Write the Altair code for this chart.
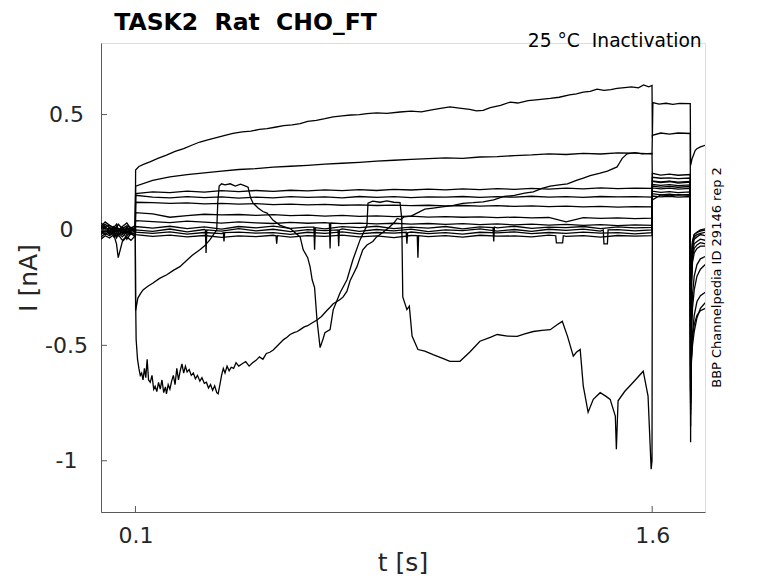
import altair as alt
import pandas as pd

# ---------------- text ----------------
chart_title = "TASK2\u00a0 Rat\u00a0 CHO_FT"
info_text = "25 °C\u00a0 Inactivation"
side_text = "BBP Channelpedia ID 29146 rep 2"
x_title = "t [s]"
y_title = "I [nA]"
x_ticks = [0.1, 1.6]
y_ticks = [-1, -0.5, 0, 0.5]
x_domain = [0.0, 1.7533]
y_domain = [-1.222, 0.81]

# ---------------- sample times per protocol phase ----------------
pre_t = [0.0, 0.012, 0.025, 0.037, 0.045, 0.05, 0.062, 0.075, 0.087, 0.0995]
step_t = [0.1005, 0.15, 0.2, 0.25, 0.3, 0.35, 0.4, 0.45, 0.5, 0.55, 0.6, 0.65, 0.7, 0.75,
          0.8, 0.85, 0.9, 0.95, 1.0, 1.05, 1.1, 1.15, 1.2, 1.25, 1.3, 1.35, 1.4, 1.45, 1.5,
          1.55, 1.5995]
test_t = [1.6005, 1.625, 1.65, 1.675, 1.7105]
post_t = [1.7115, 1.7125, 1.714, 1.717, 1.722, 1.73, 1.74, 1.754]

# ---------------- sweep: top ----------------
top_pre = [0.01, -0.005, 0.012, -0.01, 0.0, 0.005, -0.015, 0.008, -0.004, 0.002]
top_step = [(0.1005, 0.26), (0.11, 0.275), (0.125, 0.285), (0.142, 0.295), (0.165, 0.31),
            (0.19, 0.324), (0.215, 0.34), (0.24, 0.352), (0.265, 0.368), (0.287, 0.381),
            (0.31, 0.39), (0.335, 0.40), (0.36, 0.41), (0.383, 0.418), (0.41, 0.425),
            (0.435, 0.428), (0.46, 0.436), (0.482, 0.439), (0.505, 0.445), (0.53, 0.452),
            (0.555, 0.455), (0.578, 0.461), (0.6, 0.47), (0.625, 0.475), (0.65, 0.482),
            (0.674, 0.49), (0.7, 0.494), (0.725, 0.498), (0.75, 0.5), (0.772, 0.504),
            (0.8, 0.507), (0.83, 0.505), (0.868, 0.511), (0.9, 0.515), (0.93, 0.512),
            (0.96, 0.52), (0.99, 0.528), (1.013, 0.533), (1.04, 0.528), (1.07, 0.522),
            (1.09, 0.516), (1.109, 0.518), (1.13, 0.53), (1.16, 0.54), (1.188, 0.554),
            (1.21, 0.55), (1.24, 0.56), (1.27, 0.565), (1.304, 0.57), (1.33, 0.575),
            (1.36, 0.585), (1.38, 0.59), (1.4, 0.597), (1.42, 0.6), (1.44, 0.61),
            (1.46, 0.605), (1.48, 0.608), (1.498, 0.613), (1.52, 0.617), (1.54, 0.62),
            (1.56, 0.616), (1.575, 0.628), (1.59, 0.62), (1.5995, 0.626)]
top_test = [(1.6005, 0.40), (1.602, 0.552), (1.62, 0.545), (1.64, 0.549), (1.66, 0.544),
            (1.68, 0.548), (1.7105, 0.547)]
top_post = [(1.7115, 0.28), (1.713, 0.29), (1.716, 0.31), (1.72, 0.325), (1.725, 0.345),
            (1.73, 0.352), (1.74, 0.36), (1.754, 0.367)]

# ---------------- sweep: second ----------------
s2_pre = [-0.01, 0.015, -0.004, 0.006, -0.012, 0.0, 0.01, -0.008, 0.004, -0.006]
s2_step = [0.19, 0.215, 0.23, 0.24, 0.247, 0.255, 0.262, 0.266, 0.272, 0.276,
           0.28, 0.285, 0.289, 0.293, 0.298, 0.302, 0.306, 0.309, 0.312, 0.31,
           0.316, 0.318, 0.322, 0.325, 0.33, 0.327, 0.332, 0.329, 0.334, 0.333, 0.33]
s2_test = [0.41, 0.42, 0.415, 0.42, 0.418]
s2_post = [-0.92, -0.5, -0.2, -0.08, -0.04, -0.03, -0.02, -0.025]

# ---------------- flat sweeps ----------------
c_pre = [0.02, 0.005, -0.01, 0.012, 0.003, -0.006, 0.008, -0.012, 0.006, 0.0]
c_step = [0.158, 0.165, 0.162, 0.168, 0.164, 0.17, 0.166, 0.171, 0.167, 0.172,
          0.169, 0.174, 0.17, 0.175, 0.171, 0.176, 0.173, 0.177, 0.174, 0.178,
          0.175, 0.179, 0.176, 0.18, 0.177, 0.181, 0.178, 0.182, 0.179, 0.181, 0.18]
c_test = [0.245, 0.238, 0.242, 0.237, 0.24]
c_post = [-0.85, -0.4, -0.15, -0.06, -0.03, -0.02, -0.015, -0.01]

d_pre = [-0.02, -0.006, 0.008, -0.015, 0.004, -0.01, -0.02, 0.002, -0.012, -0.004]
d_step = [0.15, 0.142, 0.139, 0.144, 0.14, 0.143, 0.138, 0.142, 0.139, 0.144,
          0.141, 0.143, 0.139, 0.145, 0.141, 0.144, 0.14, 0.143, 0.142, 0.145,
          0.141, 0.144, 0.142, 0.146, 0.142, 0.144, 0.141, 0.145, 0.143, 0.144, 0.142]
d_test = [0.228, 0.224, 0.226, 0.222, 0.225]
d_post = [-0.8, -0.35, -0.12, -0.05, -0.02, -0.01, -0.005, 0.0]

e_pre = [0.005, 0.025, 0.01, -0.005, 0.015, 0.006, -0.004, 0.012, 0.0, 0.008]
e_step = [0.12, 0.118, 0.115, 0.117, 0.113, 0.115, 0.112, 0.114, 0.11, 0.112,
          0.109, 0.111, 0.107, 0.109, 0.106, 0.108, 0.105, 0.107, 0.104, 0.106,
          0.103, 0.105, 0.102, 0.104, 0.101, 0.103, 0.1, 0.102, 0.099, 0.101, 0.1]
e_test = [0.212, 0.208, 0.211, 0.207, 0.21]
e_post = [-0.75, -0.45, -0.2, -0.1, -0.06, -0.05, -0.04, -0.045]

f_pre = [-0.03, -0.015, -0.025, -0.01, -0.035, -0.02, -0.045, -0.025, -0.015, -0.03]
f_step = [0.075, 0.07, 0.055, 0.062, 0.068, 0.065, 0.067, 0.063, 0.066, 0.062,
          0.064, 0.06, 0.063, 0.059, 0.061, 0.058, 0.06, 0.056, 0.058, 0.055,
          0.057, 0.053, 0.056, 0.052, 0.054, 0.035, 0.053, 0.05, 0.052, 0.049, 0.051]
f_test = [0.197, 0.193, 0.196, 0.192, 0.195]
f_post = [-0.7, -0.45, -0.22, -0.12, -0.08, -0.065, -0.055, -0.06]

g_pre = [0.03, 0.015, 0.02, 0.005, 0.012, 0.025, 0.006, 0.018, 0.01, 0.015]
g_step = [0.04, 0.036, 0.032, 0.038, 0.034, 0.03, 0.035, 0.031, 0.028, 0.033,
          0.029, 0.032, 0.027, 0.03, 0.026, 0.029, 0.025, 0.028, 0.024, 0.027,
          0.023, 0.026, 0.022, 0.025, 0.021, 0.024, 0.02, 0.023, 0.019, 0.022, 0.02]
g_test = [0.182, 0.178, 0.181, 0.177, 0.18]
g_post = [-0.65, -0.45, -0.25, -0.14, -0.1, -0.08, -0.07, -0.07]
g_spikes = [(0.663, 0.03), (0.665, -0.08), (0.667, 0.03)]

k1_pre = [0.0, -0.02, -0.005, -0.03, -0.01, -0.025, 0.0, -0.04, -0.015, -0.02]
k1_step = [0.015, 0.008, 0.016, 0.006, 0.013, 0.004, 0.015, 0.009, 0.017, 0.007,
           0.012, 0.005, 0.014, 0.01, 0.016, 0.006, 0.012, 0.008, 0.015, 0.005,
           0.013, 0.009, 0.016, 0.007, 0.012, 0.01, 0.015, 0.006, 0.013, 0.009, 0.011]
k1_test = [0.168, 0.163, 0.166, 0.162, 0.165]
k1_post = [-0.7, -0.55, -0.4, -0.28, -0.2, -0.15, -0.125, -0.115]
k1_spikes = [(0.618, 0.012), (0.62, -0.086), (0.622, 0.01),
             (1.138, 0.01), (1.14, -0.05), (1.142, 0.012)]

k2_pre = [-0.04, -0.025, -0.035, -0.02, -0.06, -0.12, -0.05, -0.03, -0.045, -0.025]
k2_step = [0.0, -0.006, 0.004, -0.008, 0.002, -0.005, 0.006, -0.004, 0.003, -0.007,
           0.001, -0.003, 0.005, -0.006, 0.002, -0.004, 0.004, -0.007, 0.0, -0.003,
           0.005, -0.005, 0.002, -0.006, 0.003, -0.002, 0.004, -0.005, 0.001, -0.004, 0.0]
k2_test = [0.157, 0.152, 0.155, 0.151, 0.154]
k2_post = [-0.72, -0.6, -0.46, -0.34, -0.26, -0.2, -0.17, -0.15]
k2_spikes = [(0.303, 0.0), (0.305, -0.1), (0.307, 0.0),
             (0.688, 0.0), (0.69, -0.07), (0.692, 0.0),
             (1.458, 0.0), (1.46, -0.06), (1.47, -0.06), (1.472, 0.0)]

k3_pre = [0.015, 0.035, 0.02, 0.01, 0.025, 0.0, 0.015, 0.03, 0.005, 0.02]
k3_step = [-0.01, -0.015, -0.008, -0.018, -0.011, -0.016, -0.009, -0.014, -0.012, -0.019,
           -0.01, -0.015, -0.008, -0.017, -0.011, -0.014, -0.009, -0.016, -0.012, -0.018,
           -0.01, -0.013, -0.008, -0.016, -0.011, -0.015, -0.009, -0.014, -0.012, -0.017, -0.012]
k3_test = [0.147, 0.143, 0.146, 0.142, 0.145]
k3_post = [-0.78, -0.68, -0.56, -0.45, -0.37, -0.31, -0.285, -0.27]
k3_spikes = [(0.355, -0.012), (0.357, -0.05), (0.359, -0.012),
             (0.886, -0.01), (0.888, -0.06), (0.89, -0.012)]

k4_pre = [-0.015, 0.0, -0.02, -0.005, -0.025, -0.012, -0.03, -0.008, -0.02, -0.01]
k4_step = [-0.02, -0.028, -0.022, -0.03, -0.024, -0.032, -0.026, -0.029, -0.023, -0.031,
           -0.025, -0.028, -0.022, -0.03, -0.026, -0.033, -0.024, -0.029, -0.025, -0.031,
           -0.023, -0.027, -0.026, -0.03, -0.022, -0.028, -0.025, -0.031, -0.024, -0.027, -0.025]
k4_test = [0.19, 0.186, 0.189, 0.185, 0.188]
k4_post = [-0.6, -0.3, -0.12, -0.05, -0.02, -0.01, 0.0, 0.005]
k4_spikes = [(0.508, -0.025), (0.51, -0.06), (0.512, -0.025),
             (0.918, -0.025), (0.92, -0.12), (0.922, -0.025),
             (1.32, -0.025), (1.322, -0.056), (1.34, -0.056), (1.342, -0.025)]

# ---------------- sweep: lowest at start, slowly rising ----------------
low_pre = [0.005, -0.01, 0.0, 0.015, -0.008, 0.004, -0.012, 0.002, 0.01, -0.005]
low_step = [(0.1005, -0.3), (0.102, -0.475), (0.106, -0.56), (0.11, -0.6), (0.114, -0.63),
            (0.118, -0.62), (0.122, -0.65), (0.126, -0.6), (0.13, -0.64), (0.134, -0.56),
            (0.138, -0.65), (0.143, -0.66), (0.148, -0.63), (0.153, -0.69), (0.157, -0.677),
            (0.162, -0.7), (0.167, -0.66), (0.172, -0.69), (0.177, -0.65), (0.182, -0.705),
            (0.187, -0.68), (0.19, -0.71), (0.195, -0.67), (0.2, -0.69), (0.205, -0.655),
            (0.21, -0.63), (0.215, -0.67), (0.22, -0.6), (0.225, -0.65), (0.23, -0.61),
            (0.235, -0.58), (0.24, -0.62), (0.245, -0.59), (0.25, -0.615), (0.256, -0.605),
            (0.262, -0.63), (0.268, -0.62), (0.274, -0.645), (0.28, -0.63), (0.287, -0.655),
            (0.293, -0.64), (0.3, -0.665), (0.306, -0.66), (0.312, -0.685), (0.318, -0.67),
            (0.324, -0.695), (0.33, -0.675), (0.336, -0.705), (0.34, -0.71), (0.344, -0.68),
            (0.35, -0.63), (0.355, -0.6), (0.36, -0.62), (0.366, -0.59), (0.372, -0.61),
            (0.378, -0.595), (0.385, -0.6), (0.392, -0.575), (0.4, -0.59), (0.41, -0.58),
            (0.42, -0.57), (0.43, -0.59), (0.44, -0.575), (0.45, -0.565), (0.46, -0.55),
            (0.47, -0.56), (0.48, -0.535), (0.49, -0.53), (0.5, -0.52), (0.51, -0.505),
            (0.52, -0.49), (0.53, -0.475), (0.54, -0.465), (0.549, -0.453), (0.56, -0.445),
            (0.57, -0.44), (0.578, -0.432), (0.59, -0.42), (0.6, -0.415), (0.61, -0.405),
            (0.627, -0.39), (0.64, -0.375), (0.655, -0.35), (0.665, -0.335), (0.674, -0.32),
            (0.685, -0.31), (0.695, -0.3), (0.703, -0.29), (0.714, -0.265), (0.723, -0.22),
            (0.733, -0.19), (0.743, -0.159), (0.752, -0.12), (0.76, -0.086), (0.772, -0.065),
            (0.789, -0.05), (0.8, -0.03), (0.816, -0.013), (0.835, 0.01), (0.85, 0.03),
            (0.86, 0.05), (0.87, 0.045), (0.88, 0.057), (0.9, 0.06), (0.92, 0.075),
            (0.94, 0.09), (0.964, 0.095), (0.99, 0.1), (1.02, 0.105), (1.05, 0.115),
            (1.08, 0.118), (1.109, 0.122), (1.14, 0.13), (1.17, 0.145), (1.2, 0.15),
            (1.23, 0.16), (1.255, 0.165), (1.28, 0.18), (1.304, 0.19), (1.33, 0.195),
            (1.354, 0.2), (1.38, 0.215), (1.4, 0.225), (1.42, 0.235), (1.449, 0.246),
            (1.47, 0.255), (1.498, 0.273), (1.505, 0.29), (1.513, 0.31), (1.52, 0.32),
            (1.527, 0.33), (1.55, 0.335), (1.57, 0.33), (1.5995, 0.332)]
low_test = [0.21, 0.205, 0.21, 0.203, 0.207]
low_post = [-0.7, -0.62, -0.56, -0.5, -0.44, -0.38, -0.34, -0.315]

# ---------------- sweep: jumping / falling ----------------
jump_pre = [-0.005, 0.01, -0.015, 0.0, 0.008, -0.01, 0.005, -0.02, -0.006, 0.004]
jump_step = [(0.1005, -0.35), (0.104, -0.32), (0.107, -0.295), (0.115, -0.275), (0.122, -0.26),
             (0.135, -0.245), (0.151, -0.23), (0.17, -0.21), (0.191, -0.194), (0.21, -0.175),
             (0.229, -0.159), (0.25, -0.13), (0.265, -0.11), (0.287, -0.086), (0.3, -0.07),
             (0.316, -0.043), (0.331, -0.01), (0.336, 0.0), (0.339, 0.12), (0.343, 0.19),
             (0.35, 0.2), (0.36, 0.195), (0.375, 0.2), (0.39, 0.19), (0.405, 0.198),
             (0.42, 0.19), (0.427, 0.185), (0.434, 0.14), (0.441, 0.117), (0.456, 0.095),
             (0.47, 0.08), (0.482, 0.073), (0.49, 0.06), (0.499, 0.043), (0.52, 0.02),
             (0.55, 0.005), (0.578, -0.03), (0.587, -0.086), (0.6, -0.12), (0.607, -0.16),
             (0.613, -0.216), (0.62, -0.25), (0.627, -0.39), (0.636, -0.51), (0.645, -0.47),
             (0.65, -0.445), (0.665, -0.432), (0.674, -0.346), (0.694, -0.272), (0.714, -0.216),
             (0.731, -0.13), (0.752, -0.043), (0.772, 0.02), (0.775, 0.116), (0.789, 0.125),
             (0.81, 0.12), (0.83, 0.126), (0.85, 0.12), (0.868, 0.118), (0.873, 0.05),
             (0.876, -0.29), (0.888, -0.345), (0.895, -0.33), (0.903, -0.46), (0.92, -0.518),
             (0.94, -0.525), (0.964, -0.54), (0.99, -0.555), (1.013, -0.569), (1.042, -0.569),
             (1.07, -0.53), (1.1, -0.482), (1.13, -0.465), (1.15, -0.453), (1.18, -0.46),
             (1.208, -0.461), (1.23, -0.45), (1.255, -0.44), (1.28, -0.435), (1.304, -0.432),
             (1.325, -0.41), (1.339, -0.396), (1.354, -0.46), (1.371, -0.547), (1.38, -0.53),
             (1.391, -0.518), (1.4, -0.677), (1.414, -0.79), (1.429, -0.734), (1.449, -0.705),
             (1.465, -0.72), (1.478, -0.734), (1.493, -0.806), (1.496, -0.95), (1.501, -0.74),
             (1.52, -0.7), (1.545, -0.66), (1.574, -0.612), (1.588, -0.72), (1.597, -1.037),
             (1.5995, -1.0)]
jump_test = [0.13, 0.152, 0.148, 0.153, 0.15]
jump_post = [-0.75, -0.64, -0.55, -0.47, -0.41, -0.37, -0.35, -0.34]


def pairs(ts, vs):
    if len(ts) != len(vs):
        raise ValueError("length mismatch %d vs %d" % (len(ts), len(vs)))
    return list(zip(ts, vs))


sweeps = {
    "top": pairs(pre_t, top_pre) + top_step + top_test + top_post,
    "s2": pairs(pre_t, s2_pre) + pairs(step_t, s2_step) + pairs(test_t, s2_test) + pairs(post_t, s2_post),
    "c": pairs(pre_t, c_pre) + pairs(step_t, c_step) + pairs(test_t, c_test) + pairs(post_t, c_post),
    "d": pairs(pre_t, d_pre) + pairs(step_t, d_step) + pairs(test_t, d_test) + pairs(post_t, d_post),
    "e": pairs(pre_t, e_pre) + pairs(step_t, e_step) + pairs(test_t, e_test) + pairs(post_t, e_post),
    "f": pairs(pre_t, f_pre) + pairs(step_t, f_step) + pairs(test_t, f_test) + pairs(post_t, f_post),
    "g": pairs(pre_t, g_pre) + pairs(step_t, g_step) + pairs(test_t, g_test) + pairs(post_t, g_post) + g_spikes,
    "k1": pairs(pre_t, k1_pre) + pairs(step_t, k1_step) + pairs(test_t, k1_test) + pairs(post_t, k1_post) + k1_spikes,
    "k2": pairs(pre_t, k2_pre) + pairs(step_t, k2_step) + pairs(test_t, k2_test) + pairs(post_t, k2_post) + k2_spikes,
    "k3": pairs(pre_t, k3_pre) + pairs(step_t, k3_step) + pairs(test_t, k3_test) + pairs(post_t, k3_post) + k3_spikes,
    "k4": pairs(pre_t, k4_pre) + pairs(step_t, k4_step) + pairs(test_t, k4_test) + pairs(post_t, k4_post) + k4_spikes,
    "low": pairs(pre_t, low_pre) + low_step + pairs(test_t, low_test) + pairs(post_t, low_post),
    "jump": pairs(pre_t, jump_pre) + jump_step + pairs(test_t, jump_test) + pairs(post_t, jump_post),
}

rows = []
for name, pts in sweeps.items():
    for i, (t, v) in enumerate(sorted(pts, key=lambda p: p[0])):
        rows.append({"trace": name, "seq": i, "t": t, "I": v})
df = pd.DataFrame(rows)

AX = "#595959"
LBL = "#262626"
FONT = "DejaVu Sans"

xs = alt.Scale(domain=x_domain, nice=False, zero=False)
ys = alt.Scale(domain=y_domain, nice=False, zero=False)

x_axis = alt.Axis(values=x_ticks, title=x_title, grid=False, ticks=False, tickSize=0,
                  domainColor=AX, domainWidth=1, labelFont=FONT, labelFontSize=22,
                  labelColor=LBL, labelPadding=30, labelBaseline="alphabetic",
                  labelExpr="toString(datum.value)", titleFont=FONT, titleFontSize=25,
                  titleFontWeight="normal", titleColor=LBL, titleX=301.5, titleY=58,
                  titleBaseline="alphabetic", titleAlign="center")
y_axis = alt.Axis(values=y_ticks, title=y_title, grid=False, ticks=False, tickSize=0,
                  domainColor=AX, domainWidth=1, labelFont=FONT, labelFontSize=22,
                  labelColor=LBL, labelPadding=35, labelAlign="center",
                  labelBaseline="middle", labelExpr="toString(datum.value)",
                  titleFont=FONT, titleFontSize=25, titleFontWeight="normal",
                  titleColor=LBL, titleX=-65, titleY=234.5, titleAngle=270,
                  titleBaseline="alphabetic", titleAlign="center")

lines = alt.Chart(df).mark_line(color="black", strokeWidth=1.3, clip=True).encode(
    x=alt.X("t:Q", scale=xs, axis=x_axis),
    y=alt.Y("I:Q", scale=ys, axis=y_axis),
    detail="trace:N",
    order="seq:Q",
)

xtick = alt.Chart(pd.DataFrame({"t": x_ticks})).mark_rule(color=AX, strokeWidth=1).encode(
    x=alt.X("t:Q", scale=xs, axis=x_axis),
    y=alt.value(469), y2=alt.value(463),
)
ytick = alt.Chart(pd.DataFrame({"I": y_ticks})).mark_rule(color=AX, strokeWidth=1).encode(
    y=alt.Y("I:Q", scale=ys, axis=y_axis),
    x=alt.value(0), x2=alt.value(6),
)

title_mark = alt.Chart(pd.DataFrame({"label": [chart_title]})).mark_text(
    align="left", baseline="alphabetic", fontSize=23.5, fontWeight="bold", font=FONT,
    color="black"
).encode(x=alt.value(13.3), y=alt.value(-13), text="label:N")

info = alt.Chart(pd.DataFrame({"label": [info_text]})).mark_text(
    align="right", baseline="alphabetic", fontSize=18.7, font=FONT, color="black"
).encode(x=alt.value(600.7), y=alt.value(3.7), text="label:N")

side = alt.Chart(pd.DataFrame({"label": [side_text]})).mark_text(
    angle=270, align="center", baseline="alphabetic", fontSize=13, font=FONT, color="black"
).encode(x=alt.value(619.5), y=alt.value(234.5), text="label:N")

chart = alt.layer(lines, xtick, ytick, title_mark, info, side).properties(
    width=604,
    height=469,
    autosize=alt.AutoSizeParams(type="none"),
    padding={"left": 93, "top": 35, "right": 65, "bottom": 63},
).configure_view(stroke=None).configure(background="white", font=FONT)

chart.save("out.html", embed_options={"renderer": "svg", "actions": False})
